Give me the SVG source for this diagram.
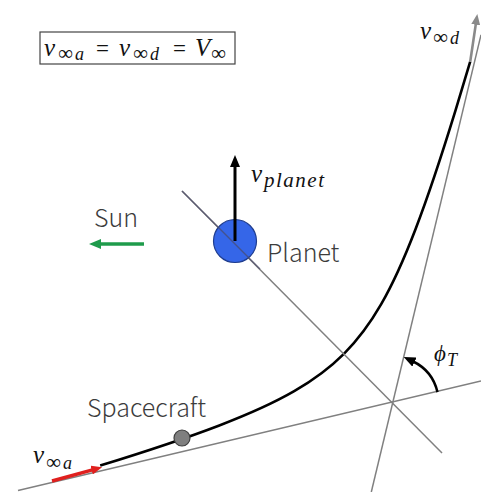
<svg xmlns="http://www.w3.org/2000/svg" width="481" height="492" viewBox="0 0 481 492">
<style>
.gl{stroke:#808080;stroke-width:1.5;fill:none}
.m{font-family:"Liberation Serif","DejaVu Serif",serif;font-style:italic;fill:#111}
.up{font-style:normal}
.eq{font-style:normal}
.s{font-family:"Noto Sans CJK JP","Noto Sans",sans-serif;font-size:25px;font-weight:300;fill:#3c3c3c}
</style>
<defs>
<marker id="ab" viewBox="0 0 12 10" refX="2" refY="5" markerWidth="12" markerHeight="10" markerUnits="userSpaceOnUse" orient="auto"><path d="M0,0 L12,5 L0,10 z" fill="#000"/></marker>
<marker id="ag" viewBox="0 0 12 10" refX="2" refY="5" markerWidth="12" markerHeight="10" markerUnits="userSpaceOnUse" orient="auto"><path d="M0,0 L12,5 L0,10 z" fill="#1e9b4b"/></marker>
<marker id="ar" viewBox="0 0 12 10" refX="2" refY="5" markerWidth="11" markerHeight="9" markerUnits="userSpaceOnUse" orient="auto"><path d="M0,0 L12,5 L0,10 z" fill="#e0201e"/></marker>
<marker id="agr" viewBox="0 0 12 10" refX="2" refY="5" markerWidth="11" markerHeight="9" markerUnits="userSpaceOnUse" orient="auto"><path d="M0,0 L12,5 L0,10 z" fill="#8a8a8a"/></marker>
</defs>

<g id="connectors">
<line class="gl" x1="18" y1="490.5" x2="481" y2="381"/>
<line class="gl" x1="371.3" y1="492" x2="481" y2="34.8"/>
<path id="trajectory" d="M100.2,465.6 C150.2,450.2 188.3,437.4 219.3,425.5 C250.3,413.6 274.3,402.7 294.2,391.2 C314.1,379.7 330.0,367.8 343.9,353.9 C357.8,340.0 369.7,324.1 381.2,304.2 C392.7,284.3 403.6,260.3 415.5,229.3 C427.4,198.3 440.2,160.2 455.6,110.2 C460.2,95.2 465.1,79.1 470.2,61.7" fill="none" stroke="#000" stroke-width="2.6"/>
<line x1="470.2" y1="61.7" x2="476" y2="22.9" stroke="#8a8a8a" stroke-width="2.6" marker-end="url(#agr)"/>
<line x1="52" y1="481" x2="93.4" y2="469.6" stroke="#e0201e" stroke-width="3.5" marker-end="url(#ar)"/>
<line x1="144" y1="244" x2="99" y2="244" stroke="#1e9b4b" stroke-width="3.5" marker-end="url(#ag)"/>
<path d="M437.5,392.1 A46,46 0 0 0 412.7,361.25" fill="none" stroke="#000" stroke-width="2.5" marker-end="url(#ab)"/>
</g>

<g id="formula">
<rect x="40" y="32" width="195" height="32" fill="#fff" stroke="#444" stroke-width="1.2"/>
<text class="m" font-size="25"><tspan x="44" y="55.5">v</tspan><tspan class="up" x="58" y="60" font-size="21">∞</tspan><tspan x="75" y="60" font-size="18">a</tspan><tspan class="eq" x="96" y="55.5" font-size="23">=</tspan><tspan x="119" y="55.5">v</tspan><tspan class="up" x="133" y="60" font-size="21">∞</tspan><tspan x="150" y="60" font-size="18">d</tspan><tspan class="eq" x="173" y="55.5" font-size="23">=</tspan><tspan x="195" y="55.5">V</tspan><tspan class="up" x="211" y="60" font-size="21">∞</tspan></text>
</g>

<g id="vinf-d">
<text class="m" font-size="25"><tspan x="420" y="38.5">v</tspan><tspan class="up" x="433" y="44" font-size="21">∞</tspan><tspan x="450" y="44" font-size="18">d</tspan></text>
</g>

<g id="apse">
<line class="gl" x1="182" y1="191" x2="442" y2="453"/>
</g>

<g id="planet">
<circle cx="235" cy="241" r="21.5" fill="#3566e8" stroke="#1f3d8f" stroke-width="1.2"/>
<line x1="182" y1="191" x2="260" y2="269" stroke="#4a4a6a" stroke-width="1.5" opacity="0.7"/>
<line x1="235" y1="241" x2="235" y2="165" stroke="#000" stroke-width="3" marker-end="url(#ab)"/>
<text class="s" x="267" y="261.5">Planet</text>
</g>

<g id="vplanet">
<text class="m" font-size="25"><tspan x="251" y="182">v</tspan><tspan x="264" y="187" font-size="21" textLength="60" lengthAdjust="spacing">planet</tspan></text>
</g>

<g id="sun">
<text class="s" x="94" y="227">Sun</text>
</g>

<g id="spacecraft">
<circle cx="182" cy="438" r="8" fill="#7f7f7f" stroke="#3f3f3f" stroke-width="1.2"/>
<text class="s" x="87" y="416.5">Spacecraft</text>
</g>

<g id="vinf-a">
<text class="m" font-size="25"><tspan x="33" y="462.5">v</tspan><tspan class="up" x="46" y="469" font-size="21">∞</tspan><tspan x="63" y="469" font-size="18">a</tspan></text>
</g>

<g id="phiT">
<text class="m" font-size="23"><tspan x="434" y="361">ϕ</tspan><tspan x="447" y="366" font-size="18">T</tspan></text>
</g>
</svg>
